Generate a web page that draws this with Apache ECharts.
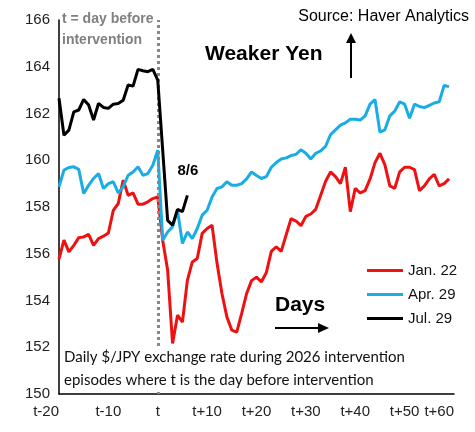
<!DOCTYPE html>
<html><head><meta charset="utf-8">
<script src="https://cdn.jsdelivr.net/npm/echarts@6/dist/echarts.min.js"></script>
<style>html,body{margin:0;padding:0;background:#fff}#c{width:475px;height:432px}</style>
</head><body><div id="c"></div>
<script>
const dayStart = -20, dayEnd = 60;
const tickLabels = ['t-20','t-10','t','t+10','t+20','t+30','t+40','t+50','t+60'];
const seriesNames = ['Jan. 22','Apr. 29','Jul. 29'];
const jan22 = [155.77,156.58,156.08,156.36,156.69,156.72,156.83,156.36,156.65,156.75,156.89,157.86,158.15,159.15,158.5,158.6,158.12,158.12,158.22,158.36,158.43,
 156.58,155.3,152.16,153.37,153.08,154.86,155.65,155.8,156.87,157.08,157.22,155.6,154.3,153.3,152.73,152.65,153.45,
 154.3,154.85,155.0,154.8,155.2,156.1,156.3,156.1,156.8,157.5,157.4,157.2,157.6,157.7,157.9,158.5,159.1,159.5,159.3,159.0,159.7,157.8,158.8,158.6,158.7,159.2,159.9,160.3,159.8,158.9,158.8,159.5,159.7,159.7,159.6,158.7,158.9,159.2,159.4,158.9,159.0,159.2,null];
const apr29 = [158.86,159.58,159.69,159.72,159.61,158.58,158.93,159.22,159.43,158.79,159.0,159.08,158.6,158.86,159.36,159.5,159.72,159.36,159.43,159.79,160.43,
 156.58,156.93,157.15,157.86,156.44,156.93,156.65,157.08,157.65,157.86,158.43,158.79,158.86,159.08,158.93,158.93,
 159.0,159.2,159.5,159.35,159.22,159.3,159.7,159.9,160.05,160.1,160.2,160.25,160.45,160.3,160.05,160.3,160.4,160.6,161.1,161.3,161.5,161.6,161.75,161.75,161.72,161.9,162.4,162.6,161.2,161.3,161.9,162.1,162.5,162.4,161.8,162.4,162.3,162.25,162.35,162.45,162.5,163.2,163.15,null];
const jul29 = [162.65,161.07,161.29,162.07,162.15,162.6,162.36,161.72,162.43,162.26,162.22,162.4,162.43,162.57,163.22,163.17,163.89,163.83,163.79,163.89,163.43,
 160.43,157.43,157.22,157.9,157.8,158.5];
const lastLabel = '8/6';

const cats = [];
for (let d = dayStart; d <= dayEnd; d++) cats.push(d === 0 ? 't' : (d > 0 ? 't+' + d : 't' + d));
const font = 'Liberation Sans, Arial, sans-serif';
const chart = echarts.init(document.getElementById('c'));
const lw = 3;
chart.setOption({
  animation: false,
  grid: {left: 59, right: 21, top: 20, bottom: 38},
  legend: {
    orient: 'vertical', left: 362, top: 258, itemGap: 9, itemWidth: 36, itemHeight: 3,
    icon: 'rect', textStyle: {fontFamily: font, fontSize: 15, color: '#111'},
    data: seriesNames
  },
  xAxis: {
    type: 'category', data: cats, boundaryGap: false,
    axisLine: {lineStyle: {color: '#000', width: 1.5}}, axisTick: {show: false},
    axisLabel: {interval: 9, fontFamily: font, fontSize: 15, color: '#222', margin: 10,
      alignMinLabel: 'right', alignMaxLabel: 'right',
      formatter: (v, i) => tickLabels[i / 10] || ''},
    splitLine: {show: false}
  },
  yAxis: {
    type: 'value', min: 150, max: 166, interval: 2,
    axisLine: {show: true, lineStyle: {color: '#000', width: 1.5}}, axisTick: {show: false},
    axisLabel: {fontFamily: font, fontSize: 15, color: '#222', margin: 9},
    splitLine: {show: false}
  },
  series: [
    {name: seriesNames[0], type: 'line', data: jan22, symbol: 'none', lineStyle: {color: '#ee1111', width: lw}, itemStyle: {color: '#ee1111'}, z: 3},
    {name: seriesNames[1], type: 'line', data: apr29, symbol: 'none', lineStyle: {color: '#1aade3', width: lw}, itemStyle: {color: '#1aade3'}, z: 4},
    {name: seriesNames[2], type: 'line', data: jul29, symbol: 'none', lineStyle: {color: '#000', width: lw}, itemStyle: {color: '#000'}, z: 5,
      endLabel: {show: true, formatter: lastLabel, offset: [-18, -24], fontFamily: font, fontWeight: 'bold', fontSize: 15, color: '#000'},
      markLine: {silent: true, symbol: 'none', label: {show: false},
        lineStyle: {color: '#888', type: [3, 3], width: 3},
        data: [{xAxis: 't'}]}}
  ],
  graphic: [
    {type: 'text', left: 62, top: 9, z: 10, style: {text: 't = day before\nintervention', fontFamily: font, fontWeight: 'bold', fontSize: 14, lineHeight: 21, fill: '#808080', backgroundColor: '#fff'}},
    {type: 'text', right: 6, top: 9, z: 10, style: {text: 'Source: Haver Analytics', fontFamily: font, fontSize: 16, fill: '#000'}},
    {type: 'text', left: 205, top: 44, z: 10, style: {text: 'Weaker Yen', fontFamily: font, fontWeight: 'bold', fontSize: 21, fill: '#000'}},
    {type: 'line', z: 10, shape: {x1: 351, y1: 78, x2: 351, y2: 42}, style: {stroke: '#000', lineWidth: 2}},
    {type: 'polygon', z: 10, shape: {points: [[346, 43], [356, 43], [351, 33]]}, style: {fill: '#000'}},
    {type: 'text', left: 275, top: 295, z: 10, style: {text: 'Days', fontFamily: font, fontWeight: 'bold', fontSize: 21, fill: '#000'}},
    {type: 'line', z: 10, shape: {x1: 275, y1: 328, x2: 320, y2: 328}, style: {stroke: '#000', lineWidth: 2}},
    {type: 'polygon', z: 10, shape: {points: [[318, 323], [318, 333], [329, 328]]}, style: {fill: '#000'}},
    {type: 'text', left: 64, top: 346, z: 10, style: {text: 'Daily $/JPY exchange rate during 2026 intervention\nepisodes where t is the day before intervention', fontFamily: 'Lato, "Open Sans", sans-serif', fontSize: 15, lineHeight: 23, fill: '#111', backgroundColor: '#fff'}}
  ]
});
</script></body></html>
